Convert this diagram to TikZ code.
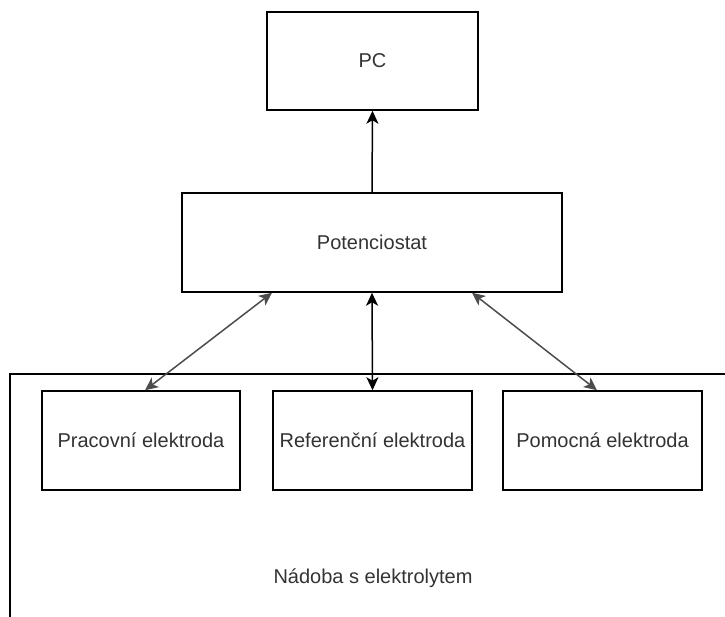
\documentclass[tikz,border=0pt]{standalone}
\usepackage{fontspec}
\setmainfont{Liberation Sans}
\usetikzlibrary{arrows.meta}

\begin{document}
\begin{tikzpicture}[x=1pt, y=-1pt,
        box/.style={draw=black, line width=1.5pt, minimum height=99pt, inner sep=0pt, text=black!80},
        label/.style={text=black!80, inner sep=0pt},
        link/.style={line width=1.5pt, {Stealth[length=13pt, width=12pt, inset=3.5pt]}-{Stealth[length=13pt, width=12pt, inset=3.5pt]}},
        uplink/.style={line width=1.5pt, -{Stealth[length=13pt, width=12pt, inset=3.5pt]}},
        font=\fontsize{20}{24}\selectfont]
        \useasboundingbox (0,0) rectangle (725,617);

        % vessel with electrolyte
        \draw[black, line width=1.5pt] (725,374) -- (10,374) -- (10,617);
        \node[label] (nadoba) at (373,578) {Nádoba s elektrolytem};

        \node[box, minimum width=211pt, minimum height=98pt] (pc) at (372.5,61) {PC};
        \node[box, minimum width=380pt] (pot) at (372,242.5) {Potenciostat};

        \node[box, minimum width=198pt, fill=white] (prac) at (141,440.5) {Pracovní elektroda};
        \node[box, minimum width=199pt, fill=white] (ref) at (372.5,440.5) {Referenční elektroda};
        \node[box, minimum width=199pt, fill=white] (pom) at (602.5,440.5) {Pomocná elektroda};

        \draw[uplink, black] (pot.north) -- (pc.south);

        \draw[link, black!70] ([xshift=-100pt]pot.south) -- ([xshift=4pt]prac.north);
        \draw[link, black] (pot.south) -- (ref.north);
        \draw[link, black!70] ([xshift=100pt]pot.south) -- ([xshift=-5.5pt]pom.north);
    \end{tikzpicture}
\end{document}
